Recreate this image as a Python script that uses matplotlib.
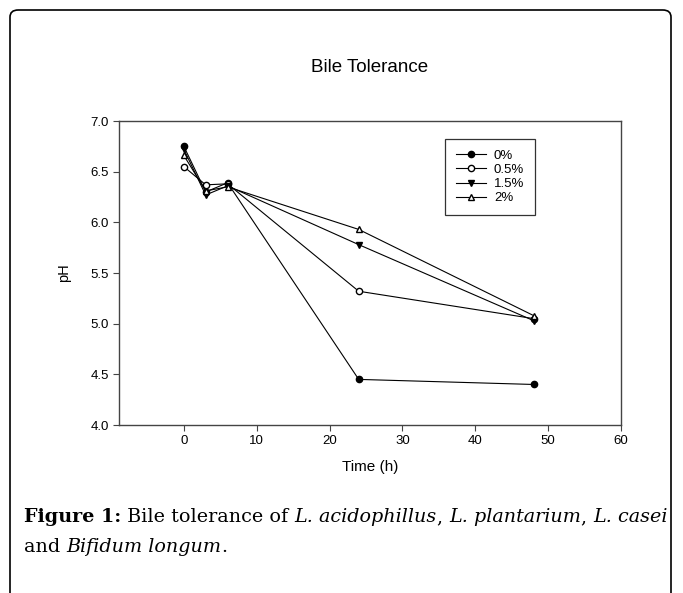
import matplotlib
matplotlib.use("Agg")
import matplotlib.pyplot as plt
from matplotlib.patches import FancyBboxPatch

time_h = [0, 3, 6, 24, 48]
ph_0 = [6.75, 6.30, 6.39, 4.45, 4.40]
ph_05 = [6.55, 6.37, 6.38, 5.32, 5.05]
ph_15 = [6.72, 6.27, 6.36, 5.78, 5.03]
ph_2 = [6.66, 6.31, 6.35, 5.93, 5.08]
labels = ["0%", "0.5%", "1.5%", "2%"]

W, H = 683, 593
fig = plt.figure(figsize=(W / 100, H / 100), dpi=100)
fig.patch.set_facecolor("white")

# outer rounded border
box = FancyBboxPatch((10 / W, -0.05), (671 / W) - 10 / W, 1 - 10 / H + 0.05,
                     boxstyle="round,pad=0,rounding_size=0.012",
                     transform=fig.transFigure, fill=False, lw=1.2,
                     edgecolor="black")
fig.patches.append(box)

ax = fig.add_axes([119 / W, 1 - 425 / H, (621 - 119) / W, (425 - 121) / H])
ax.set_xlim(-8.9, 60)
ax.set_ylim(4.0, 7.0)

sans = "Liberation Sans"
ms = 4.5
ax.plot(time_h, ph_0, "-", color="black", lw=0.8, marker="o", ms=ms,
        mfc="black", mec="black", label=labels[0])
ax.plot(time_h, ph_05, "-", color="black", lw=0.8, marker="o", ms=ms,
        mfc="white", mec="black", label=labels[1])
ax.plot(time_h, ph_15, "-", color="black", lw=0.8, marker="v", ms=ms,
        mfc="black", mec="black", label=labels[2])
ax.plot(time_h, ph_2, "-", color="black", lw=0.8, marker="^", ms=ms,
        mfc="white", mec="black", label=labels[3])

for s in ax.spines.values():
    s.set_linewidth(1.0)
    s.set_color("#444444")
ax.set_xticks([0, 10, 20, 30, 40, 50, 60])
ax.set_yticks([4.0, 4.5, 5.0, 5.5, 6.0, 6.5, 7.0])
ax.set_yticklabels(["4.0", "4.5", "5.0", "5.5", "6.0", "6.5", "7.0"])
ax.tick_params(direction="out", length=4, width=0.8, labelsize=9.5,
               top=False, right=False, color="#444444")
for lab in ax.get_xticklabels() + ax.get_yticklabels():
    lab.set_family(sans)

ax.set_xlabel("Time (h)", fontsize=11, family=sans, labelpad=9)
ax.set_ylabel("pH", fontsize=10.5, family=sans, labelpad=14)
ax.set_title("Bile Tolerance", fontsize=13.5, family=sans, pad=35)

leg = ax.legend(loc="upper left", bbox_to_anchor=(326 / 502, 1 - 18 / 304),
                frameon=True, fancybox=False, edgecolor="black",
                prop={"family": sans, "size": 9.5}, handlelength=2.3,
                labelspacing=0.15, borderpad=0.8, handletextpad=0.6,
                borderaxespad=0)
leg.get_frame().set_linewidth(0.9)

renderer = fig.canvas.get_renderer()

def draw_run(x, y, parts, size):
    for txt, weight, style in parts:
        t = fig.text(x / W, 1 - y / H, txt, fontsize=size, family="DejaVu Serif",
                     weight=weight, style=style, va="baseline", ha="left")
        bb = t.get_window_extent(renderer=renderer)
        x += bb.width
    return x

line1 = [("Figure 1:", "bold", "normal"), (" Bile tolerance of ", "normal", "normal"),
         ("L. acidophillus", "normal", "italic"), (", ", "normal", "normal"),
         ("L. plantarium", "normal", "italic"), (", ", "normal", "normal"),
         ("L. casei", "normal", "italic")]
line2 = [("and ", "normal", "normal"), ("Bifidum longum", "normal", "italic"),
         (".", "normal", "normal")]
draw_run(24, 522, line1, 13.8)
draw_run(24, 552, line2, 13.8)

fig.savefig("out.png", dpi=100, facecolor="white")
